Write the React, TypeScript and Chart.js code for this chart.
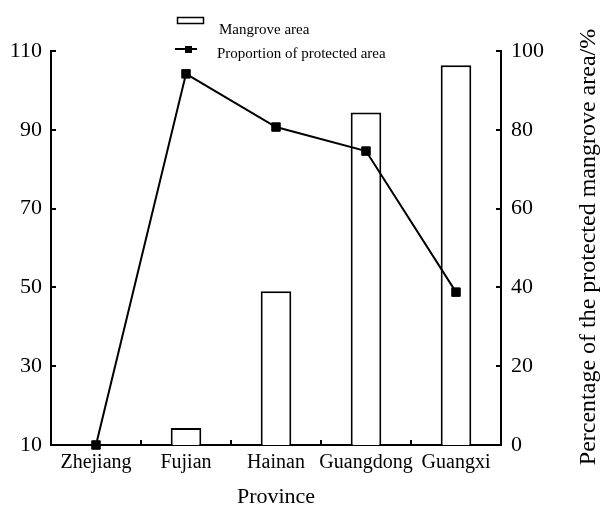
import React, { useEffect, useRef } from "react";
import { Chart, registerables } from "chart.js";

Chart.register(...registerables);

const categories = ["Zhejiang", "Fujian", "Hainan", "Guangdong", "Guangxi"];
const mangroveArea = [10.2, 14.3, 49.0, 94.4, 106.4];
const protectedProportion = [0, 94.2, 80.7, 74.6, 38.8];
const leftTicks = [10, 30, 50, 70, 90, 110];
const rightTicks = [0, 20, 40, 60, 80, 100];
const barLabel = "Mangrove area";
const lineLabel = "Proportion of protected area";
const xTitle = "Province";
const rightTitle = "Percentage of the protected mangrove area/%";

const FONT = "'Liberation Serif', 'Times New Roman', serif";

const decorPlugin = {
  id: "decor",
  afterDraw(chart: any) {
    const ctx = chart.ctx as CanvasRenderingContext2D;
    const area = chart.chartArea;
    const x = chart.scales.x;
    const y = chart.scales.y;
    const y1 = chart.scales.y1;
    ctx.save();
    ctx.strokeStyle = "#000";
    ctx.lineWidth = 2;
    leftTicks.forEach((v) => {
      const py = Math.round(y.getPixelForValue(v));
      ctx.beginPath();
      ctx.moveTo(area.left, py);
      ctx.lineTo(area.left + 5, py);
      ctx.stroke();
    });
    rightTicks.forEach((v) => {
      const py = Math.round(y1.getPixelForValue(v));
      ctx.beginPath();
      ctx.moveTo(area.right, py);
      ctx.lineTo(area.right - 5, py);
      ctx.stroke();
    });
    for (let i = 0; i < categories.length - 1; i++) {
      const px = Math.round((x.getPixelForValue(i) + x.getPixelForValue(i + 1)) / 2);
      ctx.beginPath();
      ctx.moveTo(px, area.bottom);
      ctx.lineTo(px, area.bottom - 5);
      ctx.stroke();
    }
    ctx.fillStyle = "#000";
    ctx.font = `24px ${FONT}`;
    ctx.textAlign = "center";
    ctx.textBaseline = "middle";
    ctx.translate(589, 247);
    ctx.rotate(-Math.PI / 2);
    ctx.fillText(rightTitle, 0, 0);
    ctx.restore();

    ctx.save();
    ctx.strokeStyle = "#000";
    ctx.fillStyle = "#000";
    ctx.lineWidth = 1.5;
    ctx.strokeRect(177.5, 17.5, 26, 6);
    ctx.lineWidth = 2;
    ctx.beginPath();
    ctx.moveTo(175, 49);
    ctx.lineTo(197, 49);
    ctx.stroke();
    ctx.fillRect(185, 46, 7, 7);
    ctx.font = `15px ${FONT}`;
    ctx.textAlign = "left";
    ctx.textBaseline = "middle";
    ctx.fillText(barLabel, 219, 30);
    ctx.fillText(lineLabel, 217, 54);
    ctx.restore();
  },
};

export default function App() {
  const canvasRef = useRef<HTMLCanvasElement | null>(null);

  useEffect(() => {
    const canvas = canvasRef.current;
    if (!canvas) return;
    const chart = new Chart(canvas, {
      type: "bar",
      data: {
        labels: categories,
        datasets: [
          {
            type: "line",
            label: lineLabel,
            data: protectedProportion,
            yAxisID: "y1",
            borderColor: "#000",
            borderWidth: 2,
            backgroundColor: "#000",
            pointStyle: "rect",
            pointRadius: 6,
            pointBackgroundColor: "#000",
            pointBorderColor: "#000",
            pointBorderWidth: 1,
            order: 0,
            clip: false,
          } as any,
          {
            type: "bar",
            label: barLabel,
            data: mangroveArea,
            yAxisID: "y",
            backgroundColor: "#fff",
            borderColor: "#000",
            borderWidth: 2,
            barPercentage: 0.34,
            categoryPercentage: 1,
            order: 1,
          } as any,
        ],
      },
      options: {
        animation: false,
        responsive: false,
        maintainAspectRatio: false,
        layout: { padding: { top: 51, left: 0, right: 0, bottom: 0 } },
        plugins: {
          legend: { display: false },
          tooltip: { enabled: false },
          title: { display: false },
        },
        scales: {
          x: {
            offset: true,
            grid: { display: false, drawTicks: false },
            border: { display: true, color: "#000", width: 2 },
            ticks: {
              color: "#000",
              font: { family: FONT, size: 20 },
              padding: 6,
              maxRotation: 0,
              autoSkip: false,
            },
            title: {
              display: true,
              text: xTitle,
              color: "#000",
              font: { family: FONT, size: 22 },
              padding: { top: 4, bottom: 5 },
            },
            afterFit: (s: any) => {
              s.height = 70;
            },
          },
          y: {
            position: "left",
            min: 10,
            max: 110,
            grid: { display: false, drawTicks: false },
            border: { display: true, color: "#000", width: 2 },
            ticks: {
              stepSize: 20,
              color: "#000",
              font: { family: FONT, size: 22 },
              padding: 9,
            },
            afterFit: (s: any) => {
              s.width = 51;
            },
          },
          y1: {
            position: "right",
            min: 0,
            max: 100,
            grid: { display: false, drawTicks: false },
            border: { display: true, color: "#000", width: 2 },
            ticks: {
              stepSize: 20,
              color: "#000",
              font: { family: FONT, size: 22 },
              padding: 10,
            },
            afterFit: (s: any) => {
              s.width = 102;
            },
          },
        },
      } as any,
      plugins: [decorPlugin],
    });
    return () => chart.destroy();
  }, []);

  return (
    <div style={{ position: "fixed", left: 0, top: 0, width: 603, height: 515, background: "#fff" }}>
      <canvas ref={canvasRef} width={603} height={515} style={{ width: 603, height: 515, display: "block" }} />
    </div>
  );
}
